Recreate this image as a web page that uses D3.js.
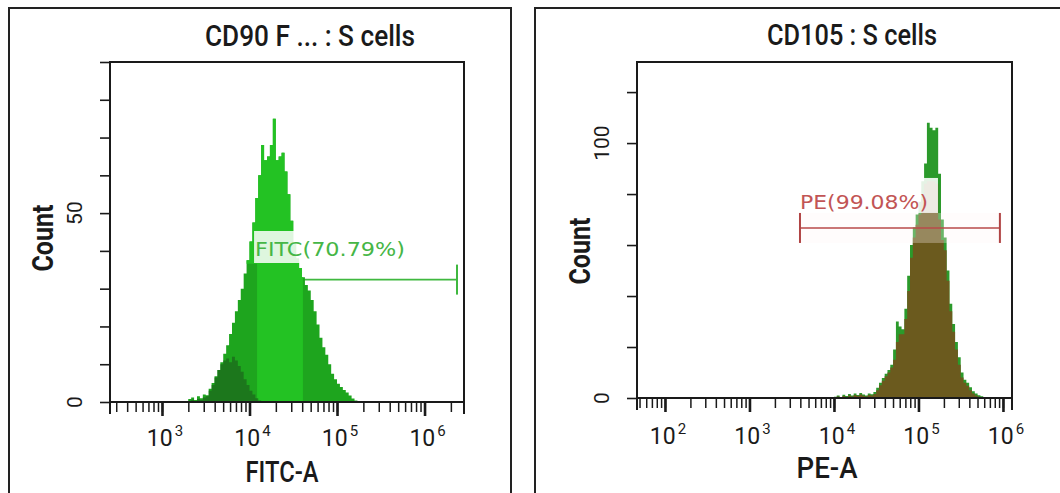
<!DOCTYPE html>
<html><head><meta charset="utf-8">
<script src="https://cdn.jsdelivr.net/npm/d3@7"></script>
<style>
html,body{margin:0;padding:0;background:#fff;}
svg{display:block;}
</style></head><body>
<svg id="c" width="1060" height="493"></svg>
<script>
// ---------- data ----------
const titles = ["CD90 F ... : S cells", "CD105 : S cells"];
const xAxisLabels = ["FITC-A", "PE-A"];
const yAxisLabel = "Count";
const fitcDecades = [3, 4, 5, 6];
const peDecades = [2, 3, 4, 5, 6];
const fitcYTickLabels = [0, 50];
const peYTickLabels = [0, 100];
const binStepLog = 1 / 30;           // histogram bin width in decades
const fitcBinStartLog = 3.3;
const fitcCounts = [0.8,1.2,0.5,1.5,1.0,2.0,1.8,3.5,5.0,6.8,8.5,10.5,12.8,15,18,21,24,27,30,34,37.5,42.5,47.5,54,60,68,64,65,68,75,64,65,66,61,55,48,42,38,35.5,33,31,29.5,27,24,20.5,17,14.5,12.5,10,7.5,6,4.8,4,3.2,2.5,1.7,0.9,0.4];
const fitcControl = [0.3,0.6,0.2,0.8,0.5,1.2,1.5,3,4.5,6.5,8.5,10,11,11.5,10.5,12,11,9.5,8,6,4.5,3,2,1,0.4];
const peBinStartLog = 4.0;
const peCounts = [0.5,1.0,0.4,1.3,0.8,1.6,1.0,1.8,1.2,2.0,1.4,1.0,1.8,1.5,2.4,4.0,6.0,7.8,9.5,11,13,19,30,28,27,35,48,60,67,72,77,85,92,108,106,105,106,88,70,63,50,37,29,22,16,10,7.2,6,4.2,2.6,1.8,1.1,0.7,0.3];
const peOverlay = [0.3,0.6,0.2,0.8,0.4,1.0,0.6,1.2,0.8,1.4,0.9,0.6,1.2,1.0,1.6,3,5,6.8,8.5,10,12,15,22,25,25,31,42,55,63,68,72,78,84,85,85,85,84,70,62,58,46,34,26,19,13,8,6,4.8,3,1.8,1,0.5,0.3,0];
const gateLabels = ["FITC(70.79%)", "PE(99.08%)"];
const fitcGate = [12200, 2350000];
const fitcGateLevel = 32.4;
const fitcBrightBand = [12200, 40800];
const peGate = [3960, 920000];
const peGateLevel = 66.7;

// ---------- drawing ----------
const svg = d3.select("#c");
const FONT = "Roboto, 'Liberation Sans', Arial, sans-serif";
const INK = "#1a1a1a";

// outer panel borders
svg.append("rect").attr("x", 9).attr("y", 8).attr("width", 502).attr("height", 500)
  .attr("fill", "none").attr("stroke", "#222").attr("stroke-width", 2);
svg.append("rect").attr("x", 535).attr("y", 8).attr("width", 540).attr("height", 500)
  .attr("fill", "none").attr("stroke", "#222").attr("stroke-width", 2);

function histPoints(start, counts) {
  const pts = counts.map((c, i) => ({ v: Math.pow(10, start + i * binStepLog), c }));
  pts.push({ v: Math.pow(10, start + counts.length * binStepLog), c: 0 });
  return pts;
}

const panels = [
  {
    id: "L", title: titles[0], titleX: 310, titleY: 46, titleLen: 210,
    xLabel: xAxisLabels[0], xLabelX: 282, xLabelLen: 73,
    x: d3.scaleLog().domain([Math.pow(10, 2.406), Math.pow(10, 6.451)]).range([110, 464]),
    y: d3.scaleLinear().domain([0, 90]).range([402, 62]),
    yStep: 10, yLabels: fitcYTickLabels, decades: fitcDecades,
    countX: 53, countY: 238, tickLabBase: 446
  },
  {
    id: "R", title: titles[1], titleX: 852, titleY: 45, titleLen: 170,
    xLabel: xAxisLabels[1], xLabelX: 827, xLabelLen: 61,
    x: d3.scaleLog().domain([Math.pow(10, 1.669), Math.pow(10, 6.107)]).range([637, 1012]),
    y: d3.scaleLinear().domain([0, 131.8]).range([398, 62]),
    yStep: 20, yLabels: peYTickLabels, decades: peDecades,
    countX: 590, countY: 251, tickLabBase: 444
  }
];

panels.forEach(p => {
  const g = svg.append("g");
  const [x0, x1] = p.x.range();
  const [yb, yt] = p.y.range();

  // title
  g.append("text").attr("x", p.titleX).attr("y", p.titleY)
    .attr("text-anchor", "middle").attr("font-family", FONT).attr("font-weight", 500)
    .attr("font-size", 29).attr("fill", INK)
    .attr("textLength", p.titleLen).attr("lengthAdjust", "spacingAndGlyphs")
    .text(p.title);

  // clip for plot area
  svg.append("clipPath").attr("id", "clip" + p.id)
    .append("rect").attr("x", x0).attr("y", yt).attr("width", x1 - x0).attr("height", yb - yt);

  const area = d3.area().x(d => p.x(d.v)).y0(p.y(0)).y1(d => p.y(d.c)).curve(d3.curveStepAfter);
  const plot = g.append("g").attr("clip-path", `url(#clip${p.id})`);

  if (p.id === "L") {
    // gate line (under histogram)
    const gy = p.y(fitcGateLevel);
    plot.append("line").attr("x1", p.x(fitcGate[0])).attr("x2", p.x(fitcGate[1]))
      .attr("y1", gy).attr("y2", gy).attr("stroke", "#3fb83f").attr("stroke-width", 1.6);
    [fitcGate[1]].forEach(v => plot.append("line").attr("x1", p.x(v)).attr("x2", p.x(v))
      .attr("y1", gy - 15).attr("y2", gy + 15).attr("stroke", "#3fb83f").attr("stroke-width", 2));

    const pts = histPoints(fitcBinStartLog, fitcCounts);
    plot.append("path").datum(pts).attr("d", area).attr("fill", "#1ea51e");
    // bright part
    const cp = svg.append("clipPath").attr("id", "brightL");
    cp.append("rect").attr("x", x0).attr("y", yt).attr("width", x1 - x0).attr("height", p.y(36.6) - yt);
    cp.append("rect").attr("x", p.x(fitcBrightBand[0])).attr("y", yt)
      .attr("width", p.x(fitcBrightBand[1]) - p.x(fitcBrightBand[0])).attr("height", yb - yt);
    plot.append("g").attr("clip-path", "url(#brightL)")
      .append("path").datum(pts).attr("d", area).attr("fill", "#23c223");
    // control overlay
    plot.append("path").datum(histPoints(fitcBinStartLog, fitcControl)).attr("d", area)
      .attr("fill", "#1b641b").attr("fill-opacity", 0.7);

    // label box + label
    const lx = p.x(fitcGate[0]) - 3;
    plot.append("rect").attr("x", lx).attr("y", 231).attr("width", 152).attr("height", 32)
      .attr("fill", "#fff").attr("fill-opacity", 0.85);
    plot.append("text").attr("x", lx + 1).attr("y", 256)
      .attr("font-family", "'DejaVu Sans', Verdana, sans-serif").attr("font-size", 19)
      .attr("fill", "#46b646").attr("textLength", 150).attr("lengthAdjust", "spacingAndGlyphs")
      .text(gateLabels[0]);
  } else {
    plot.append("path").datum(histPoints(peBinStartLog, peCounts)).attr("d", area).attr("fill", "#2b9a2b");
    plot.append("path").datum(histPoints(peBinStartLog, peOverlay)).attr("d", area).attr("fill", "#6b5a1e");

    const gy = p.y(peGateLevel);
    const gx0 = p.x(peGate[0]), gx1 = p.x(peGate[1]);
    plot.append("rect").attr("x", gx0 - 2).attr("y", gy - 15).attr("width", gx1 - gx0 + 4).attr("height", 30)
      .attr("fill", "#fff4f4").attr("fill-opacity", 0.3);
    plot.append("rect").attr("x", gx0 - 2).attr("y", gy - 50).attr("width", 140).attr("height", 35)
      .attr("fill", "#fff").attr("fill-opacity", 0.88);
    plot.append("line").attr("x1", gx0).attr("x2", gx1).attr("y1", gy).attr("y2", gy)
      .attr("stroke", "#b84a4a").attr("stroke-width", 1.6);
    [gx0, gx1].forEach(xx => plot.append("line").attr("x1", xx).attr("x2", xx)
      .attr("y1", gy - 15).attr("y2", gy + 15).attr("stroke", "#b04444").attr("stroke-width", 2));
    plot.append("text").attr("x", gx0).attr("y", gy - 19)
      .attr("font-family", "'DejaVu Sans', Verdana, sans-serif").attr("font-size", 19)
      .attr("fill", "#c25555").attr("textLength", 128).attr("lengthAdjust", "spacingAndGlyphs")
      .text(gateLabels[1]);
  }

  // frame
  g.append("rect").attr("x", x0).attr("y", yt).attr("width", x1 - x0).attr("height", yb - yt)
    .attr("fill", "none").attr("stroke", INK).attr("stroke-width", 2);

  // x axis ticks (minor + major)
  const [d0, d1] = p.x.domain();
  const minor = [];
  for (let e = Math.floor(Math.log10(d0)); e <= Math.ceil(Math.log10(d1)); e++) {
    for (let k = 1; k <= 9; k++) {
      const v = k * Math.pow(10, e);
      if (v >= d0 && v <= d1) minor.push(v);
    }
  }
  const ax1 = g.append("g").attr("transform", `translate(0,${yb})`)
    .call(d3.axisBottom(p.x).tickValues(minor).tickSize(10).tickFormat(""));
  const ax2 = g.append("g").attr("transform", `translate(0,${yb})`)
    .call(d3.axisBottom(p.x).tickValues(p.decades.map(e => Math.pow(10, e))).tickSize(14).tickFormat(""));
  [ax1, ax2].forEach(a => { a.select(".domain").remove(); });
  ax1.selectAll("line").attr("stroke", INK).attr("stroke-width", 1.5);
  ax2.selectAll("line").attr("stroke", INK).attr("stroke-width", 2.6);
  // frame edges extended down
  [x0, x1].forEach(xx => g.append("line").attr("x1", xx).attr("x2", xx).attr("y1", yb).attr("y2", yb + 12)
    .attr("stroke", INK).attr("stroke-width", 2));

  // x tick labels
  p.decades.forEach(e => {
    const t = g.append("text").attr("x", p.x(Math.pow(10, e)) + 3).attr("y", p.tickLabBase)
      .attr("text-anchor", "middle").attr("font-family", FONT).attr("fill", INK);
    t.append("tspan").attr("font-size", 23).text("10");
    t.append("tspan").attr("font-size", 15).attr("dx", 2).attr("dy", -10).text(e);
  });

  // y axis
  const yTicks = d3.range(0, p.y.domain()[1] + 0.01, p.yStep);
  const ay = g.append("g").attr("transform", `translate(${x0},0)`)
    .call(d3.axisLeft(p.y).tickValues(yTicks).tickSize(10).tickFormat(""));
  ay.select(".domain").remove();
  ay.selectAll("line").attr("stroke", INK).attr("stroke-width", 1.6);
  p.yLabels.forEach(v => {
    g.append("text").attr("transform", `translate(${x0 - 28},${p.y(v)}) rotate(-90)`)
      .attr("text-anchor", "middle").attr("font-family", FONT).attr("font-size", 21).attr("fill", INK)
      .text(v);
  });

  // axis titles
  g.append("text").attr("x", p.xLabelX).attr("y", yb + 80)
    .attr("text-anchor", "middle").attr("font-family", FONT).attr("font-weight", 500)
    .attr("font-size", 30).attr("fill", INK)
    .attr("textLength", p.xLabelLen).attr("lengthAdjust", "spacingAndGlyphs")
    .text(p.xLabel);
  g.append("text").attr("transform", `translate(${p.countX},${p.countY}) rotate(-90)`)
    .attr("text-anchor", "middle").attr("font-family", FONT).attr("font-weight", 700)
    .attr("font-size", 30).attr("fill", INK)
    .attr("textLength", 67).attr("lengthAdjust", "spacingAndGlyphs")
    .text(yAxisLabel);
});
</script>
</body></html>
